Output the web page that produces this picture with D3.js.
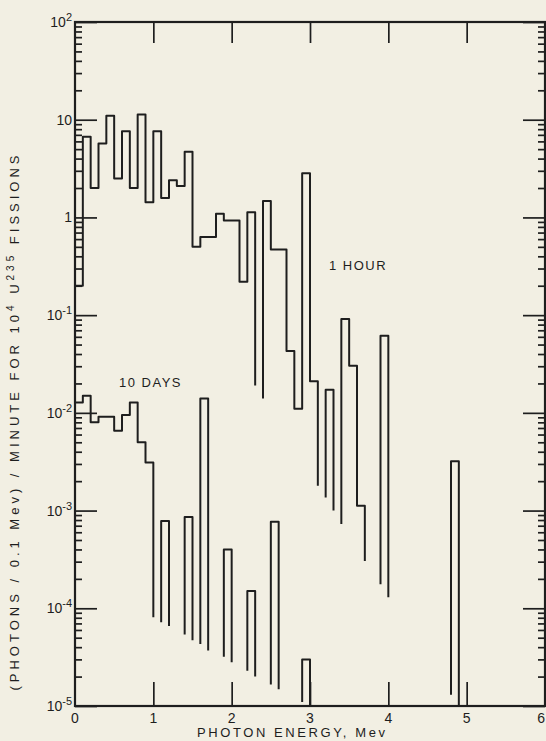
<!DOCTYPE html>
<html>
<head>
<meta charset="utf-8">
<script src="https://cdn.jsdelivr.net/npm/d3@7"></script>
<style>
  html, body { margin: 0; padding: 0; background: #f2efe3; }
  svg { display: block; }
  text { font-family: "Liberation Sans", Arial, sans-serif; fill: #1e1e1e; }
</style>
</head>
<body>
<div id="svg-container"></div>
<script>
////////////////////////////////////////////////////////////////////
////////////////////////////  Data  ////////////////////////////////
// one value per 0.1 Mev bin, starting at 0 Mev
// null = bin whose floor is not drawn; its edges drop to the depths in *Dips
const hourValues = [
  0.2, 6.7, 2.0, 5.7, 11, 2.5, 7.6, 2.0, 11.3, 1.43,           // 0.0 - 0.9
  7.6, 1.58, 2.4, 2.1, 4.7, 0.5, 0.63, 0.63, 1.09, 0.93,       // 1.0 - 1.9
  0.93, 0.22, 1.13, null, 1.47, 0.47, 0.47, 0.043, 0.011, 2.84, // 2.0 - 2.9
  0.021, null, 0.0172, null, 0.0914, 0.0304, 0.00112, null, null, 0.0617, // 3.0 - 3.9
  null, null, null, null, null, null, null, null, 0.0032, null  // 4.0 - 4.9
];
const hourDips = [
  [0.019, 0.014], [0.0018, 0.00136], [0.001, 0.00073],
  [3.05e-4, 1.76e-4], [1.3e-4, 1.3e-5], [1e-5, null]
];

const dayValues = [
  0.0128, 0.015, 0.008, 0.0091, 0.0091, 0.00656, 0.0095, 0.0128, 0.005, 0.0031, // 0.0 - 0.9
  null, 7.8e-4, null, null, 8.6e-4, null, 0.014, null, null, 4.0e-4,             // 1.0 - 1.9
  null, null, 1.5e-4, null, null, 7.7e-4, null, null, null, 3.0e-5,              // 2.0 - 2.9
  null                                                                            // 3.0
];
const dayDips = [
  [8.1e-5, 7.2e-5], [6.6e-5, 5.4e-5], [4.7e-5, 4.3e-5], [3.7e-5, 3.2e-5],
  [2.8e-5, 2.3e-5], [2.0e-5, 1.66e-5], [1.48e-5, 1.1e-5], [1e-5, null]
];

const xTicks = [0, 1, 2, 3, 4, 5, 6];
const yExponents = [2, 1, 0, -1, -2, -3, -4, -5];
const binWidth = 0.1;

////////////////////////////////////////////////////////////////////
////////////////////////////  Init  ////////////////////////////////
const ink = "#1e1e1e";
const width = 546;
const height = 741;
const margin = { top: 22, right: 1, bottom: 35, left: 75 };

const svg = d3.select("#svg-container").append("svg")
  .attr("width", width)
  .attr("height", height);

const x = d3.scaleLinear().domain([0, 6]).range([margin.left, width - margin.right]);
const y = d3.scaleLog().domain([1e-5, 1e2]).range([height - margin.bottom, margin.top]);

// minor ticks 2..9 in each decade
const minorTicks = [];
for (let e = -5; e < 2; e++) {
  for (let m = 2; m <= 9; m++) minorTicks.push(m * Math.pow(10, e));
}
const majorTicks = yExponents.map((e) => Math.pow(10, e));

// axes (ticks only, pointing inwards)
const addAxis = (axis, tx, ty) =>
  svg.append("g")
    .attr("transform", `translate(${tx},${ty})`)
    .call(axis)
    .call((g) => g.select(".domain").remove())
    .call((g) => g.selectAll("line").attr("stroke", ink).attr("stroke-width", 1.7));

addAxis(d3.axisLeft(y).tickValues(majorTicks).tickSize(-22).tickFormat(""), x(0), 0);
addAxis(d3.axisLeft(y).tickValues(minorTicks).tickSize(-7).tickFormat(""), x(0), 0);
addAxis(d3.axisRight(y).tickValues(majorTicks).tickSize(-22).tickFormat(""), x(6), 0);
addAxis(d3.axisRight(y).tickValues(minorTicks).tickSize(-7).tickFormat(""), x(6), 0);
addAxis(d3.axisTop(x).tickValues([1, 2, 3, 4, 5]).tickSize(-21).tickFormat(""), 0, y(1e2));
addAxis(d3.axisBottom(x).tickValues([1, 2, 3, 4, 5]).tickSize(-24).tickFormat(""), 0, y(1e-5));

// frame
svg.append("rect")
  .attr("x", x(0))
  .attr("y", y(1e2))
  .attr("width", x(6) - x(0))
  .attr("height", y(1e-5) - y(1e2))
  .attr("fill", "none")
  .attr("stroke", ink)
  .attr("stroke-width", 2.2);

// y tick labels
const yLabels = svg.selectAll(".ylab")
  .data(yExponents)
  .enter()
  .append("text")
  .attr("class", "ylab")
  .attr("x", x(0) - 3)
  .attr("y", (d) => y(Math.pow(10, d)) + 5)
  .attr("text-anchor", "end")
  .style("font-size", "14px");

yLabels.each(function (d) {
  const t = d3.select(this);
  if (d === 0) { t.text("1"); return; }
  t.append("tspan").text("10");
  if (d !== 1) {
    t.append("tspan")
      .attr("dy", -6)
      .style("font-size", "11px")
      .text(d < 0 ? "-" + -d : d);
  }
});

// x tick labels (last one pulled in so it stays on the page)
svg.selectAll(".xlab")
  .data(xTicks)
  .enter()
  .append("text")
  .attr("class", "xlab")
  .attr("x", (d) => (d === 6 ? width - 1 : x(d)))
  .attr("y", y(1e-5) + 17)
  .attr("text-anchor", (d) => (d === 6 ? "end" : "middle"))
  .style("font-size", "14px")
  .text((d) => d);

// axis titles
svg.append("text")
  .attr("x", 291)
  .attr("y", 737)
  .attr("text-anchor", "middle")
  .attr("textLength", 188)
  .attr("lengthAdjust", "spacing")
  .style("font-size", "13px")
  .text("PHOTON ENERGY, Mev");

const yTitle = svg.append("text")
  .attr("transform", "translate(19,423) rotate(-90)")
  .attr("text-anchor", "middle")
  .attr("textLength", 535)
  .attr("lengthAdjust", "spacing")
  .style("font-size", "13px");
yTitle.append("tspan").text("(PHOTONS / 0.1 Mev) / MINUTE     FOR 10");
yTitle.append("tspan").attr("dy", -5).style("font-size", "10px").text("4");
yTitle.append("tspan").attr("dy", 5).text(" U");
yTitle.append("tspan").attr("dy", -5).style("font-size", "10px").text("235");
yTitle.append("tspan").attr("dy", 5).text(" FISSIONS");

// series labels
svg.append("text").attr("x", 329).attr("y", 270)
  .style("font-size", "13px").style("letter-spacing", "1.5px")
  .text("1 HOUR");
svg.append("text").attr("x", 119).attr("y", 387)
  .style("font-size", "13px").style("letter-spacing", "1.5px")
  .text("10 DAYS");

////////////////////////////////////////////////////////////////////
////////////////////////////  Histograms  //////////////////////////
const stepPath = (values, dips) => {
  let d = "";
  let k = 0;
  let pending = null; // depth of the right edge after an open run
  let i = 0;
  while (i < values.length) {
    if (values[i] === null) {
      while (i < values.length && values[i] === null) i++;
      const [left, right] = dips[k++];
      if (d) d += `V${y(left)}`;
      pending = right;
      continue;
    }
    const x0 = x(i * binWidth);
    const yv = y(values[i]);
    if (!d) d = `M${x0},${yv}`;
    else if (pending !== null) { d += `M${x0},${y(pending)}V${yv}`; pending = null; }
    else d += `V${yv}`;
    d += `H${x((i + 1) * binWidth)}`;
    i++;
  }
  return d;
};

[[hourValues, hourDips], [dayValues, dayDips]].forEach(([vals, dips]) => {
  svg.append("path")
    .attr("d", stepPath(vals, dips))
    .attr("fill", "none")
    .attr("stroke", ink)
    .attr("stroke-width", 2)
    .attr("stroke-linejoin", "round");
});
</script>
</body>
</html>
